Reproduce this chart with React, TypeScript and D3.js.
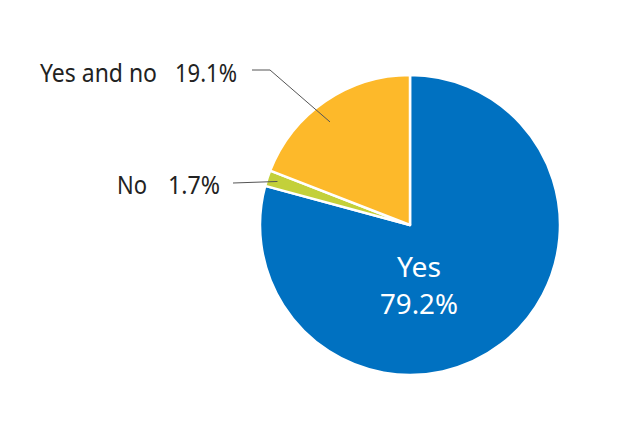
import React from "react";
import * as d3 from "d3";

const categories = ["Yes", "No", "Yes and no"];
const values = [79.2, 1.7, 19.1];
const colors = ["#0071C1", "#C3D03A", "#FDB92A"];

export default function App() {
  const width = 620;
  const height = 438;
  const cx = 410;
  const cy = 225;
  const r = 150;

  const pie = d3.pie<number>().sort(null).value((d) => d)(values);
  const arc = d3.arc<d3.PieArcDatum<number>>().innerRadius(0).outerRadius(r);

  const pt = (angle: number, rad: number) => [
    cx + rad * Math.sin(angle),
    cy - rad * Math.cos(angle),
  ];

  const yn = pie[2];
  const ynMid = (yn.startAngle + yn.endAngle) / 2;
  const [ynx, yny] = pt(ynMid - 0.06, r * 0.87);
  const no = pie[1];
  const noMid = (no.startAngle + no.endAngle) / 2;
  const [nox, noy] = pt(noMid, r * 0.93);

  const font = "'Noto Sans', sans-serif";
  const fmt = (v: number) => `${v.toFixed(1)}%`;

  return (
    <svg width={width} height={height} style={{ position: "absolute", left: 0, top: 0 }}>
      <rect width={width} height={height} fill="#fff" />
      <g transform={`translate(${cx},${cy})`}>
        {pie.map((p, i) => (
          <path key={i} d={arc(p) || ""} fill={colors[i]} stroke="#fff" strokeWidth={2.5} strokeLinejoin="round" />
        ))}
      </g>
      <text x={419} y={277} fill="#fff" fontFamily={font} fontSize={28} textAnchor="middle" textLength={44} lengthAdjust="spacingAndGlyphs">
        {categories[0]}
      </text>
      <text x={419} y={314} fill="#fff" fontFamily={font} fontSize={28} textAnchor="middle" textLength={78} lengthAdjust="spacingAndGlyphs">
        {fmt(values[0])}
      </text>
      <polyline points={`252,70 270,70 ${ynx},${yny}`} fill="none" stroke="#555" strokeWidth={1} />
      <text x={40} y={82} fill="#222" fontFamily={font} fontSize={25} textLength={117} lengthAdjust="spacingAndGlyphs">
        {categories[2]}
      </text>
      <text x={237} y={82} fill="#222" fontFamily={font} fontSize={25} textAnchor="end" textLength={62} lengthAdjust="spacingAndGlyphs">
        {fmt(values[2])}
      </text>
      <line x1={233} y1={183} x2={nox} y2={noy} stroke="#555" strokeWidth={1} />
      <text x={117} y={194} fill="#222" fontFamily={font} fontSize={25} textLength={30} lengthAdjust="spacingAndGlyphs">
        {categories[1]}
      </text>
      <text x={220} y={194} fill="#222" fontFamily={font} fontSize={25} textAnchor="end" textLength={52} lengthAdjust="spacingAndGlyphs">
        {fmt(values[1])}
      </text>
    </svg>
  );
}
